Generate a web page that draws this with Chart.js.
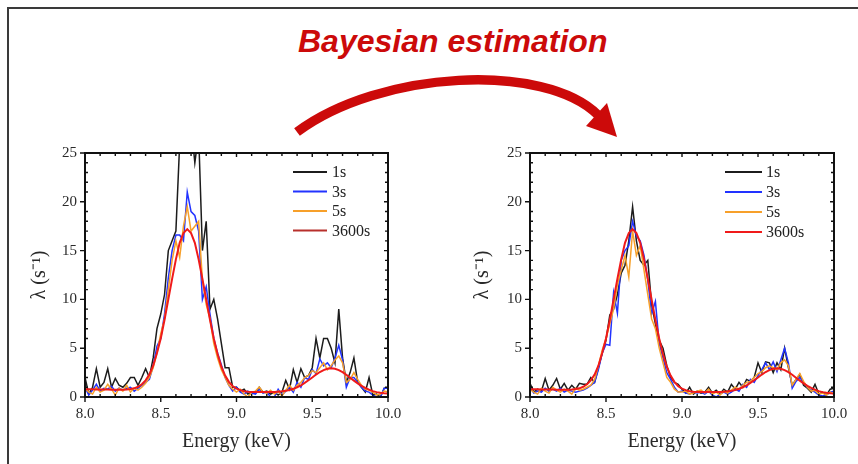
<!DOCTYPE html>
<html><head><meta charset="utf-8">
<script src="https://cdn.jsdelivr.net/npm/chart.js@4.4.1/dist/chart.umd.min.js"></script>
<style>
html,body{margin:0;padding:0;background:#fff;}
#wrap{position:relative;width:858px;height:464px;overflow:hidden;background:#fff;}
#frame{position:absolute;left:7px;top:7px;width:900px;height:500px;border-top:2px solid #3a3a3a;border-left:2px solid #3a3a3a;}
#title{position:absolute;left:298px;top:25px;font:italic bold 32px "Liberation Sans",Arial,sans-serif;line-height:32px;color:#cc0a0a;white-space:nowrap;}
#arrow{position:absolute;left:0;top:0;}
.cv{position:absolute;}
canvas{display:block;}
</style></head>
<body><div id="wrap">
<div id="frame"></div>
<div id="title">Bayesian estimation</div>
<svg id="arrow" width="858" height="160" viewBox="0 0 858 160">
  <path d="M297,132 C380,70 545,62 598,115" fill="none" stroke="#cc0a0a" stroke-width="9.5"/>
  <polygon points="586,126 607,103 617,137" fill="#cc0a0a"/>
</svg>
<div class="cv" style="left:0;top:130px;"><canvas id="c1" width="420" height="334"></canvas></div>
<div class="cv" style="left:440px;top:130px;"><canvas id="c2" width="418" height="334"></canvas></div>
</div>
<script>
// ---- data ----
const energies = [
8.000,8.025,8.050,8.075,8.100,8.125,8.150,8.175,8.200,8.225,
8.250,8.275,8.300,8.325,8.350,8.375,8.400,8.425,8.450,8.475,
8.500,8.525,8.550,8.575,8.600,8.625,8.650,8.675,8.700,8.725,
8.750,8.775,8.800,8.825,8.850,8.875,8.900,8.925,8.950,8.975,
9.000,9.025,9.050,9.075,9.100,9.125,9.150,9.175,9.200,9.225,
9.250,9.275,9.300,9.325,9.350,9.375,9.400,9.425,9.450,9.475,
9.500,9.525,9.550,9.575,9.600,9.625,9.650,9.675,9.700,9.725,
9.750,9.775,9.800,9.825,9.850,9.875,9.900,9.925,9.950,9.975,
10.000];

const seriesNames = ['1s','3s','5s','3600s'];
const xTicks = [8.0, 8.5, 9.0, 9.5, 10.0];
const yTicks = [0, 5, 10, 15, 20, 25];

// left panel (raw)
const raw1s = [2.0,0.3,1.0,2.9,1.0,1.5,2.9,1.0,1.9,1.2,1.0,1.4,2.0,2.0,1.2,2.0,2.9,
  2.0,4.0,7.0,8.5,10.5,15.0,16.0,17.0,26.0,32.0,30.0,28.0,24.0,27.0,15.0,18.0,9.0,10.0,8.0,5.5,3.0,3.0,1.0,
  1.0,0.6,0.8,0.3,0.5,0.4,1.0,0.5,0.6,0.3,0.5,0.2,0.5,1.7,0.8,2.8,1.5,2.9,2.0,2.2,3.0,6.0,4.0,6.0,6.0,5.0,3.5,9.0,4.0,1.5,2.5,4.0,1.5,1.0,0.5,2.0,0.2,0.3,0.0,0.9,0.9];
const raw3s = [1.0,0.2,0.7,1.3,0.6,0.9,0.8,1.1,0.6,0.9,0.7,0.9,1.0,0.6,0.9,1.2,1.5,
  1.8,3.2,5.2,6.0,8.5,12.2,15.0,16.6,16.6,16.0,21.0,19.0,18.6,17.0,10.0,11.3,8.5,6.0,4.5,3.3,2.0,1.2,0.6,
  1.0,0.5,0.3,0.6,0.4,0.3,0.8,0.4,0.5,0.0,0.0,0.8,0.2,0.6,1.0,0.5,1.5,1.0,2.0,1.8,2.8,2.4,3.9,3.2,3.5,3.0,4.0,5.3,3.8,1.0,2.0,2.0,1.5,1.0,0.6,0.5,0.2,0.0,0.0,0.9,0.9];
const raw5s = [0.9,0.5,0.3,1.0,0.5,0.7,1.3,0.8,0.2,0.9,0.6,1.2,0.5,0.9,0.7,1.0,1.4,
  2.0,3.0,4.5,6.5,8.0,11.0,14.0,16.0,14.3,17.5,19.5,17.0,17.5,18.0,12.0,9.5,8.0,5.5,4.0,2.8,2.0,1.2,0.8,
  0.5,0.8,0.3,0.0,0.5,0.6,1.0,0.5,0.4,0.7,0.3,0.6,0.1,0.7,1.2,0.7,1.2,1.5,2.0,2.2,2.7,2.5,3.0,3.5,2.8,3.2,3.8,4.2,3.5,1.5,1.8,2.5,1.8,1.2,0.8,0.7,0.5,0.2,0.3,0.6,0.5];

// right panel (Bayesian estimation)
const est1s = [1.4,0.5,0.8,0.6,1.9,0.7,1.2,1.9,0.8,1.4,0.7,1.2,0.8,1.4,1.3,1.3,2.0,
  1.5,3.0,4.5,5.8,8.4,9.0,10.5,12.7,13.5,16.0,19.5,16.0,14.0,13.5,14.0,9.5,7.5,5.8,5.0,3.2,2.0,1.5,1.3,
  0.8,0.4,1.0,0.3,0.6,0.4,0.5,1.0,0.4,0.7,0.3,0.8,0.5,1.3,0.8,1.5,1.0,1.8,1.6,2.0,3.5,2.5,3.6,3.5,2.5,3.5,2.8,5.0,3.0,1.2,1.8,2.3,1.2,0.9,0.5,1.3,0.3,0.5,0.2,0.8,0.9];
const est3s = [1.0,0.4,0.6,0.5,0.9,0.6,0.8,0.6,0.9,0.5,0.7,0.6,0.5,0.6,0.7,0.9,1.2,
  1.5,2.8,4.5,5.4,5.3,10.7,8.6,14.0,15.0,15.5,18.0,16.5,16.0,14.5,12.0,8.5,9.8,5.5,4.0,2.5,1.8,1.0,0.5,
  0.6,0.4,0.3,0.5,0.4,0.5,0.3,0.6,0.2,0.0,0.3,0.5,0.3,0.5,0.8,0.6,1.3,1.0,1.8,1.5,2.2,2.8,3.5,2.8,3.6,2.6,3.8,5.0,3.5,0.9,1.6,2.0,1.5,1.0,0.7,0.5,0.2,0.1,0.2,0.5,0.6];
const est5s = [0.8,0.5,0.3,0.9,0.6,0.4,1.0,0.7,0.5,0.8,0.6,0.3,0.9,0.7,0.8,1.0,1.2,
  1.8,3.2,4.8,6.0,7.5,9.0,11.5,13.0,14.5,12.3,17.0,14.5,15.5,13.0,10.5,8.0,7.0,5.0,3.5,2.0,1.5,0.8,0.5,
  0.5,0.6,0.3,0.4,0.6,0.7,0.4,0.8,0.3,0.5,0.2,0.6,0.4,0.7,1.0,0.8,1.2,1.5,1.6,2.0,2.4,2.6,3.0,3.2,3.0,2.8,3.5,3.8,3.2,1.2,1.8,2.4,1.6,1.0,0.6,0.7,0.3,0.4,0.2,0.5,0.3];

// 3600 s reference spectrum (same in both panels)
const ref3600s = [0.8,0.8,0.8,0.78,0.78,0.77,0.76,0.75,0.75,0.74,
  0.75,0.78,0.82,0.89,1.05,1.3,1.7,2.3,3.2,4.5,
  6.0,7.9,10.0,12.1,14.1,15.8,16.8,17.2,16.8,15.8,
  14.1,12.1,10.0,7.9,6.0,4.4,3.1,2.2,1.55,1.1,
  0.85,0.7,0.6,0.55,0.52,0.5,0.5,0.5,0.5,0.5,
  0.52,0.55,0.58,0.63,0.72,0.84,1.0,1.2,1.45,1.72,
  2.0,2.3,2.56,2.76,2.9,2.95,2.9,2.76,2.55,2.28,
  1.98,1.68,1.4,1.15,0.93,0.75,0.6,0.5,0.43,0.38,0.35];

// ---- styling ----
const lineColors = ['#1c1c1c', '#2233ff', '#f7a02a', '#f01a1a'];
const serif = '"Liberation Serif", "Times New Roman", serif';

const axesPlugin = {
  id: 'axesPlugin',
  afterDatasetsDraw(chart, args, opts) {
    const {ctx, chartArea: a, scales: {x, y}} = chart;
    ctx.save();
    ctx.strokeStyle = '#111';
    ctx.lineWidth = 2;
    ctx.strokeRect(a.left, a.top, a.right - a.left, a.bottom - a.top);
    ctx.lineWidth = 1.4;
    ctx.beginPath();
    for (let k = 0; k <= 20; k++) {
      const v = 8 + k * 0.1;
      const px = x.getPixelForValue(v);
      const major = k % 5 === 0;
      if (major) {
        ctx.moveTo(px, a.bottom); ctx.lineTo(px, a.bottom + 5);
        ctx.moveTo(px, a.top); ctx.lineTo(px, a.top + 4);
      } else {
        ctx.moveTo(px, a.bottom); ctx.lineTo(px, a.bottom - 3);
        ctx.moveTo(px, a.top); ctx.lineTo(px, a.top + 3);
      }
    }
    for (let k = 0; k <= 25; k++) {
      const py = y.getPixelForValue(k);
      const major = k % 5 === 0;
      if (major) {
        ctx.moveTo(a.left, py); ctx.lineTo(a.left - 5, py);
        ctx.moveTo(a.right, py); ctx.lineTo(a.right - 4, py);
      } else {
        ctx.moveTo(a.left, py); ctx.lineTo(a.left + 3, py);
        ctx.moveTo(a.right, py); ctx.lineTo(a.right - 3, py);
      }
    }
    ctx.stroke();
    const lg = opts;
    ctx.font = '16px ' + serif;
    ctx.textBaseline = 'middle';
    ctx.textAlign = 'left';
    seriesNames.forEach((name, i) => {
      const ly = a.top + lg.y0 + i * lg.dy;
      ctx.strokeStyle = lg.colors[i];
      ctx.lineWidth = 2;
      ctx.beginPath();
      ctx.moveTo(a.right - lg.x0, ly);
      ctx.lineTo(a.right - lg.x1, ly);
      ctx.stroke();
      ctx.fillStyle = '#222';
      ctx.fillText(name, a.right - lg.xt, ly + 1);
    });
    ctx.restore();
  }
};

function makeChart(id, arrs, cfg) {
  const datasets = arrs.map((arr, i) => ({
    label: seriesNames[i],
    data: energies.map((e, j) => ({x: e, y: arr[j]})),
    borderColor: lineColors[i],
    borderWidth: i === 3 ? 2.0 : 1.5,
    pointRadius: 0,
    tension: 0,
    fill: false,
    order: 3 - i
  }));
  return new Chart(document.getElementById(id), {
    type: 'line',
    data: {datasets},
    plugins: [axesPlugin],
    options: {
      responsive: false,
      animation: false,
      events: [],
      layout: {padding: {left: 0, top: 23, right: cfg.padRight, bottom: 0}},
      plugins: {
        legend: {display: false},
        tooltip: {enabled: false},
        axesPlugin: cfg.legend
      },
      scales: {
        x: {
          type: 'linear', min: 8, max: 10,
          afterBuildTicks: s => { s.ticks = xTicks.map(v => ({value: v})); },
          afterFit: s => { s.height = 67; },
          grid: {display: false, drawTicks: false},
          border: {display: false},
          ticks: {padding: 8, color: '#2a2a2a', font: {family: serif, size: 15},
                  maxRotation: 0, callback: v => Number(v).toFixed(1)},
          title: {display: true, text: 'Energy (keV)', color: '#2a2a2a',
                  font: {family: serif, size: 20}, padding: {top: 0, bottom: 10}}
        },
        y: {
          type: 'linear', min: 0, max: 25,
          afterBuildTicks: s => { s.ticks = yTicks.map(v => ({value: v})); },
          afterFit: s => { s.width = cfg.yWidth; },
          grid: {display: false, drawTicks: false},
          border: {display: false},
          ticks: {padding: 8, color: '#2a2a2a', font: {family: serif, size: 15}},
          title: {display: true, text: 'λ (s⁻¹)', color: '#2a2a2a',
                  font: {family: serif, size: 20}, padding: {top: cfg.yTitlePad, bottom: 0}}
        }
      }
    }
  });
}

makeChart('c1', [raw1s, raw3s, raw5s, ref3600s], {
  padRight: 32, yWidth: 85, yTitlePad: 28,
  legend: {x0: 95, x1: 61, xt: 56, y0: 19, dy: 19.5,
           colors: ['#1c1c1c', '#2233ff', '#f7a02a', '#b8302c']}
});
makeChart('c2', [est1s, est3s, est5s, ref3600s], {
  padRight: 24, yWidth: 90, yTitlePad: 31,
  legend: {x0: 109, x1: 72, xt: 68, y0: 19, dy: 20,
           colors: ['#1c1c1c', '#2233ff', '#f7a02a', '#f01a1a']}
});
</script>
</body></html>
